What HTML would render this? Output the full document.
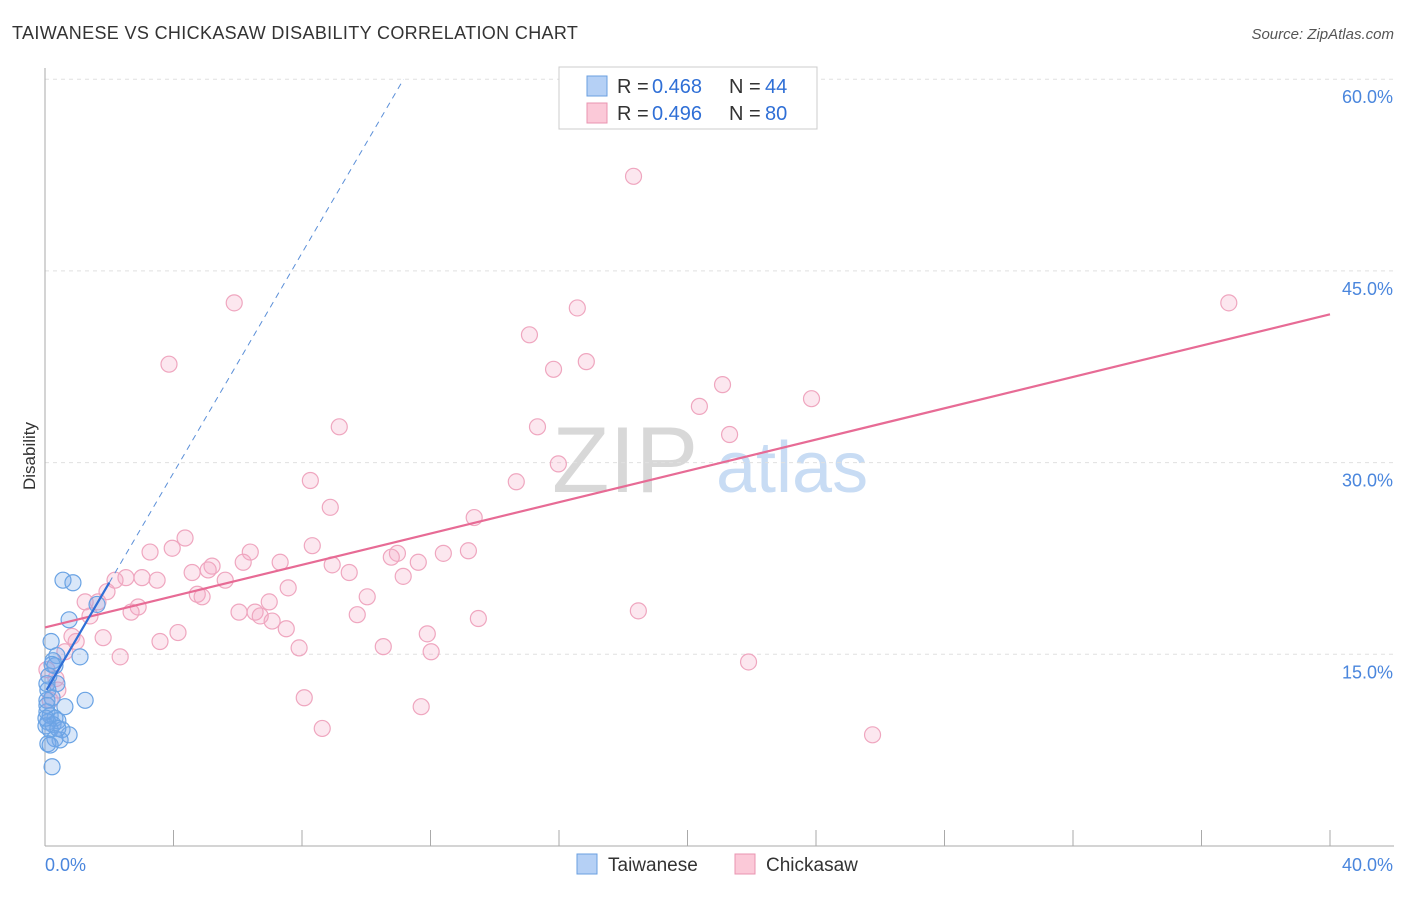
<!DOCTYPE html>
<html><head><meta charset="utf-8"><style>
body{margin:0;background:#fff;font-family:"Liberation Sans",sans-serif}
svg text{font-family:"Liberation Sans",sans-serif}
</style></head><body>
<svg id="c" width="1406" height="892">
<text x="12" y="39" font-size="18" fill="#333" letter-spacing="0.35">TAIWANESE VS CHICKASAW DISABILITY CORRELATION CHART</text>
<text x="1394" y="39" font-size="15" fill="#555" font-style="italic" text-anchor="end">Source: ZipAtlas.com</text>
<text x="35" y="456" font-size="17" fill="#333" transform="rotate(-90 35 456)" text-anchor="middle">Disability</text>
<g><text x="552" y="492" font-family="Liberation Serif,serif" font-size="94" fill="#d8d8d8">ZIP</text><text x="716" y="492" font-size="72" fill="#c8dcf4">atlas</text></g>
<g id="grid"></g><g id="axes"></g><g id="pts"></g><g id="lines"></g>
<g>
<rect x="559" y="67" width="258" height="62" fill="#fff" stroke="#ccc"/>
<rect x="587" y="76" width="20" height="20" fill="#b5d0f5" stroke="#6a9fe0"/>
<text x="617" y="93" font-size="20" fill="#333">R =</text>
<text x="652" y="93" font-size="20" fill="#2f6fd6">0.468</text>
<text x="729" y="93" font-size="20" fill="#333">N =</text>
<text x="765" y="93" font-size="20" fill="#2f6fd6">44</text>
<rect x="587" y="103" width="20" height="20" fill="#fbc9d8" stroke="#ea94b0"/>
<text x="617" y="120" font-size="20" fill="#333">R =</text>
<text x="652" y="120" font-size="20" fill="#2f6fd6">0.496</text>
<text x="729" y="120" font-size="20" fill="#333">N =</text>
<text x="765" y="120" font-size="20" fill="#2f6fd6">80</text>
</g>
<g>
<rect x="577" y="854" width="20" height="20" fill="#b5d0f5" stroke="#6a9fe0"/>
<text x="608" y="871" font-size="19" fill="#333">Taiwanese</text>
<rect x="735" y="854" width="20" height="20" fill="#fbc9d8" stroke="#ea94b0"/>
<text x="766" y="871" font-size="19" fill="#333">Chickasaw</text>
</g>
</svg>
<script>
const yTicks=[15,30,45,60];
const xTickLabels=["0.0%","40.0%"];
const pinkX=[18.32,5.89,16.57,36.85,15.08,16.85,15.83,3.86,21.09,23.86,20.37,9.16,15.33,21.31,15.98,8.26,14.67,8.88,13.36,4.36,3.96,8.32,3.27,6.39,10.97,10.78,12.40,13.18,6.17,7.32,8.94,11.62,5.20,5.08,4.58,9.47,11.15,5.61,2.52,3.02,3.49,2.18,7.57,1.93,4.74,4.89,10.03,6.98,1.65,1.25,2.90,2.68,6.04,6.54,6.70,9.72,18.47,1.40,7.07,13.49,7.51,4.14,11.90,0.84,1.81,3.58,0.97,10.53,7.91,12.02,0.62,2.34,21.90,0.34,0.40,8.07,11.71,8.63,25.76,0.06,0.16];
const pinkY=[52.4,42.5,42.1,42.5,40.0,37.9,37.3,37.7,36.1,35.0,34.4,32.8,32.8,32.2,29.9,28.6,28.5,26.5,25.7,24.1,23.3,23.5,23.0,23.0,22.9,22.6,22.9,23.1,22.2,22.2,22.0,22.2,21.9,21.6,21.4,21.4,21.1,20.8,21.0,21.0,20.8,20.8,20.2,19.9,19.7,19.5,19.5,19.1,19.1,19.1,18.7,18.3,18.3,18.3,18.0,18.1,18.4,18.0,17.6,17.8,17.0,16.7,16.6,16.4,16.3,16.0,16.0,15.6,15.5,15.2,15.2,14.8,14.4,13.1,12.2,11.6,10.9,9.2,8.7,13.8,11.4];
const blueX=[0.56,0.87,0.75,1.62,0.37,1.09,0.19,0.25,0.31,0.12,0.37,0.09,1.25,0.22,0.62,0.06,0.16,0.31,0.09,0.25,0.40,0.03,0.16,0.53,0.75,0.31,0.47,0.09,0.22,0.06,0.06,0.22,0.06,0.40,0.03,0.16];
const blueY=[20.8,20.6,17.7,18.9,14.9,14.8,16.0,14.5,14.1,13.3,12.7,12.2,11.4,11.6,10.9,10.5,10.2,10.0,9.7,9.5,9.8,9.4,9.1,9.1,8.7,8.4,8.3,8.0,6.2,11.4,12.7,14.2,11.0,9.2,10.0,7.9];
const pinkTrend=[17.1,41.6];
const blueTrend=[12.0,4.3];
const NS="http://www.w3.org/2000/svg";
const X=v=>45+v*32.125, Y=v=>846-v*12.78;
function mk(p,t,a){const e=document.createElementNS(NS,t);for(const k in a)e.setAttribute(k,a[k]);p.appendChild(e);return e;}
const g=document.getElementById('grid'),ax=document.getElementById('axes'),P=document.getElementById('pts'),L=document.getElementById('lines');
yTicks.forEach(t=>{
 const l=mk(g,'line',{x1:45,x2:1394,y1:Y(t),y2:Y(t),stroke:'#e0e0e0','stroke-dasharray':'4,4'});
 
 
 const tx=mk(ax,'text',{x:1393,y:Y(t)+24,'font-size':18,fill:'#4a86dd','text-anchor':'end'});tx.textContent=t.toFixed(1)+'%';
 
 
});
mk(ax,'line',{x1:45,x2:45,y1:68,y2:846,stroke:'#aaa'});
mk(ax,'line',{x1:45,x2:1394,y1:846,y2:846,stroke:'#aaa'});
for(let i=0;i<=10;i++){const t=mk(ax,'line',{x1:X(i*4),x2:X(i*4),y1:830,y2:846,stroke:'#aaa'});
 
 }
const t0=mk(ax,'text',{x:45,y:871,'font-size':18,fill:'#4a86dd'});t0.textContent=xTickLabels[0];


const t1=mk(ax,'text',{x:1393,y:871,'font-size':18,fill:'#4a86dd','text-anchor':'end'});t1.textContent=xTickLabels[1];


pinkX.forEach((x,i)=>{const c=mk(P,'circle',{cx:X(x),cy:Y(pinkY[i]),r:8,fill:'rgba(246,170,198,0.28)',stroke:'#efa6bf','stroke-width':1.2});
 
 });
blueX.forEach((x,i)=>{const c=mk(P,'circle',{cx:X(x),cy:Y(blueY[i]),r:8,fill:'rgba(120,170,232,0.28)',stroke:'#6aa3e4','stroke-width':1.2});
 
 });
const pl=mk(L,'line',{x1:X(0),y1:Y(pinkTrend[0]),x2:X(40),y2:Y(pinkTrend[1]),stroke:'#e76b95','stroke-width':2.2});


const xe=(60-blueTrend[0])/blueTrend[1];
const bd=mk(L,'line',{x1:X(2),y1:Y(blueTrend[0]+blueTrend[1]*2),x2:X(xe),y2:Y(60),stroke:'#5b8fd8','stroke-width':1,'stroke-dasharray':'6,5'});


const bl=mk(L,'line',{x1:X(0.05),y1:Y(blueTrend[0]+blueTrend[1]*0.05),x2:X(2),y2:Y(blueTrend[0]+blueTrend[1]*2),stroke:'#2f6fd6','stroke-width':2.2});


</script>
</body></html>
